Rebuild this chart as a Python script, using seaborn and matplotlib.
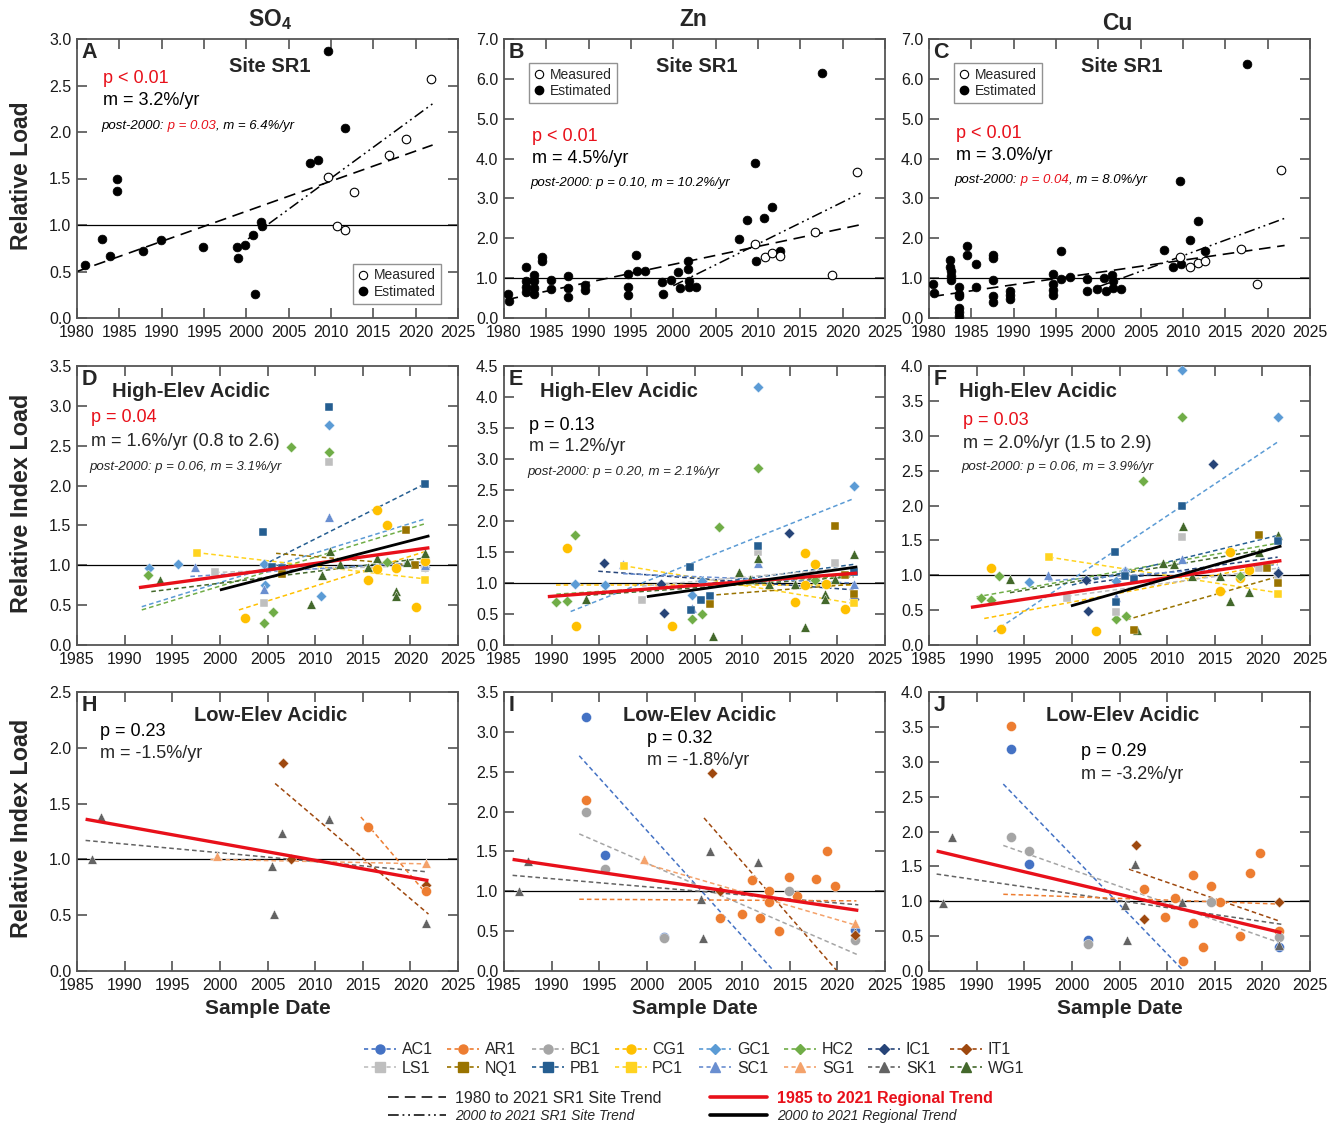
import numpy as np
import pandas as pd
import matplotlib
matplotlib.use("Agg")
import matplotlib.pyplot as plt
from matplotlib.lines import Line2D
from matplotlib.ticker import FormatStrFormatter
from matplotlib import font_manager
import seaborn as sns

# Tema dasar, lalu font
sns.set_theme(style="ticks")
plt.rcParams["font.family"] = ["Liberation Sans", "DejaVu Sans"]
plt.rcParams["mathtext.fontset"] = "custom"
plt.rcParams["mathtext.bf"] = "Liberation Sans:bold"
plt.rcParams["mathtext.rm"] = "Liberation Sans"

names = {f.name for f in font_manager.fontManager.ttflist}
HAS_NARROW = "Liberation Sans Narrow" in names
ITAL_FAM = ["Liberation Sans Narrow", "Liberation Sans"] if HAS_NARROW else ["Liberation Sans"]
ITAL_SIZE = 11 if HAS_NARROW else 9.5

# ---------------- DATA: site SR1 (row 1) ----------------
so4_est = [(1980.9, 0.57), (1982.9, 0.85), (1983.9, 0.67), (1984.7, 1.49), (1984.7, 1.37),
           (1987.8, 0.72), (1989.9, 0.84), (1994.9, 0.76), (1998.9, 0.76), (1999.0, 0.65),
           (1999.9, 0.79), (2000.8, 0.89), (2001.0, 0.26), (2001.7, 1.03), (2001.8, 0.99),
           (2007.5, 1.67), (2008.5, 1.70), (2009.6, 2.87), (2011.7, 2.04)]
so4_meas = [(2009.6, 1.52), (2010.7, 0.99), (2011.7, 0.95), (2012.7, 1.35), (2016.8, 1.75),
            (2018.8, 1.92), (2021.8, 2.57)]
so4_trend = [(1980.0, 0.50), (2022.0, 1.86)]
so4_trend_post = [(2000.2, 0.85), (2022.1, 2.31)]

zn_est = [(1980.5, 0.59), (1980.6, 0.43), (1982.6, 1.27), (1982.6, 0.94), (1982.6, 0.79),
          (1982.6, 0.64), (1983.5, 1.09), (1983.6, 0.94), (1983.5, 0.75), (1983.6, 0.59),
          (1984.5, 1.52), (1984.5, 1.42), (1985.5, 0.95), (1985.5, 0.73), (1987.5, 1.06),
          (1987.6, 0.75), (1987.6, 0.52), (1989.6, 0.84), (1989.6, 0.70), (1994.7, 1.10),
          (1994.7, 0.79), (1994.7, 0.58), (1995.6, 1.58), (1995.7, 1.17), (1996.6, 1.17),
          (1998.7, 0.91), (1998.8, 0.60), (1999.7, 0.95), (2000.6, 1.15), (2000.8, 0.75),
          (2001.7, 1.43), (2001.7, 1.23), (2001.8, 0.94), (2001.8, 0.79), (2002.7, 0.79),
          (2007.8, 1.99), (2008.7, 2.45), (2009.6, 3.90), (2009.8, 1.42), (2010.7, 2.52),
          (2011.7, 2.78), (2012.6, 1.67), (2017.5, 6.15)]
zn_meas = [(2009.7, 1.85), (2010.8, 1.53), (2011.7, 1.62), (2012.6, 1.55), (2016.7, 2.17),
           (2018.7, 1.07), (2021.7, 3.67)]
zn_trend = [(1980.3, 0.46), (2022.1, 2.34)]
zn_trend_post = [(2000.0, 0.81), (2022.1, 3.13)]

cu_est = [(1980.5, 0.86), (1980.6, 0.63), (1982.5, 1.46), (1982.5, 1.29), (1982.6, 1.17),
          (1982.6, 1.06), (1982.6, 0.96), (1983.6, 0.79), (1983.6, 0.61), (1983.5, 0.54),
          (1983.5, 0.25), (1983.5, 0.14), (1983.6, 0.04), (1984.5, 1.81), (1984.5, 1.59),
          (1985.5, 1.36), (1985.6, 0.79), (1987.6, 1.58), (1987.6, 1.50), (1987.6, 0.96),
          (1987.6, 0.56), (1987.6, 0.39), (1989.6, 0.68), (1989.6, 0.58), (1989.6, 0.48),
          (1994.7, 1.11), (1994.7, 0.86), (1994.7, 0.71), (1994.7, 0.58), (1995.6, 1.69),
          (1995.6, 0.98), (1996.6, 1.04), (1998.7, 0.98), (1998.7, 0.68), (1999.8, 0.73),
          (2000.7, 1.00), (2000.9, 0.67), (2001.6, 1.08), (2001.7, 0.92), (2001.7, 0.75),
          (2002.7, 0.73), (2007.8, 1.71), (2008.8, 1.27), (2009.7, 3.43), (2009.8, 1.36),
          (2010.8, 1.96), (2011.8, 2.43), (2012.6, 1.69), (2017.5, 6.38)]
cu_meas = [(2009.7, 1.52), (2010.8, 1.29), (2011.8, 1.38), (2012.6, 1.43), (2016.8, 1.73),
           (2018.7, 0.86), (2021.6, 3.72)]
cu_trend = [(1980.4, 0.54), (2022.0, 1.82)]
cu_trend_post = [(2000.1, 0.79), (2022.0, 2.50)]

# ---------------- DATA: sites ----------------
SITES = ["AC1", "AR1", "BC1", "CG1", "GC1", "HC2", "IC1", "IT1",
         "LS1", "NQ1", "PB1", "PC1", "SC1", "SG1", "SK1", "WG1"]
SITE_COLORS = ["#4472C4", "#ED7D31", "#A5A5A5", "#FFC000", "#5B9BD5", "#70AD47", "#264478", "#9E480E",
               "#BFBFBF", "#997300", "#255E91", "#FFD320", "#698ED0", "#F4A26B", "#636363", "#43682B"]
SITE_MARKERS = ["o"] * 4 + ["D"] * 4 + ["s"] * 4 + ["^"] * 4
COLOR = dict(zip(SITES, SITE_COLORS))
MARK = dict(zip(SITES, SITE_MARKERS))
MSIZE = {"o": 52, "D": 30, "s": 40, "^": 46}

# High-Elev Acidic: SO4 (D)
d_pts = {
    "GC1": [(1992.6, 0.97), (1995.6, 1.02), (2004.6, 1.02), (2004.7, 0.75), (2010.6, 0.61), (2011.5, 2.76), (2021.5, 0.98)],
    "HC2": [(1992.5, 0.88), (2004.6, 0.28), (2005.6, 0.41), (2007.5, 2.49), (2011.5, 2.42), (2017.5, 1.04)],
    "PB1": [(2004.5, 1.42), (2005.5, 0.98), (2006.5, 0.97), (2011.5, 2.98), (2021.5, 2.02)],
    "LS1": [(1999.5, 0.91), (2004.6, 0.53), (2011.5, 2.30), (2021.5, 0.97)],
    "SC1": [(1997.4, 0.98), (2004.6, 0.70), (2011.5, 1.61), (2021.5, 1.00)],
    "CG1": [(2002.6, 0.34), (2015.5, 0.81), (2016.5, 1.69), (2016.5, 0.95), (2017.5, 1.50), (2018.5, 0.96), (2020.6, 0.48), (2021.5, 1.05)],
    "PC1": [(1997.6, 1.16), (2021.5, 0.82)],
    "NQ1": [(2006.5, 0.89), (2019.5, 1.44), (2020.5, 1.00)],
    "WG1": [(1993.7, 0.82), (2009.6, 0.52), (2010.7, 0.88), (2011.6, 1.18), (2012.6, 1.02), (2015.5, 0.98),
            (2016.5, 1.09), (2018.5, 0.68), (2018.5, 0.61), (2019.6, 1.04), (2021.5, 1.15)],
}
d_trends = {
    "PB1": [(2004.5, 1.00), (2021.5, 2.02)], "GC1": [(1991.8, 0.48), (2021.5, 1.58)],
    "HC2": [(1991.8, 0.44), (2021.5, 1.52)], "WG1": [(1992.8, 0.67), (2021.5, 1.09)],
    "CG1": [(2002.0, 0.44), (2021.5, 1.17)], "PC1": [(1997.5, 1.16), (2021.5, 0.83)],
    "NQ1": [(2005.9, 1.15), (2021.5, 0.99)], "LS1": [(1999.5, 0.91), (2021.5, 1.00)],
    "SC1": [(1996.9, 0.86), (2021.5, 1.04)],
}
d_region = [(1991.5, 0.72), (2022.0, 1.22)]
d_region_post = [(2000.0, 0.69), (2022.0, 1.37)]

# High-Elev Acidic: Zn (E)
e_pts = {
    "HC2": [(1990.5, 0.70), (1991.6, 0.71), (1992.5, 1.77), (2004.7, 0.42), (2005.8, 0.50), (2007.6, 1.91), (2011.7, 2.86), (2017.6, 1.05)],
    "CG1": [(1991.6, 1.57), (1992.6, 0.30), (2002.6, 0.31), (2015.6, 0.70), (2016.6, 1.49), (2016.6, 0.97), (2017.6, 1.30), (2018.8, 0.98), (2020.8, 0.58)],
    "GC1": [(1992.5, 0.98), (1995.6, 0.97), (2004.7, 0.81), (2005.8, 1.03), (2011.7, 4.16), (2021.7, 2.56)],
    "IC1": [(1995.5, 1.33), (2001.5, 0.99), (2001.8, 0.51), (2014.9, 1.80), (2021.7, 0.74)],
    "SC1": [(1997.5, 1.30), (2004.7, 0.59), (2011.7, 1.32), (2021.7, 0.98)],
    "PC1": [(1997.6, 1.28), (2021.7, 0.68)],
    "LS1": [(1999.5, 0.73), (2011.7, 1.50), (2019.7, 1.33)],
    "PB1": [(2004.5, 1.26), (2004.6, 0.56), (2005.7, 0.73), (2006.6, 0.79), (2011.7, 1.60), (2021.7, 1.17)],
    "NQ1": [(2006.6, 0.66), (2019.7, 1.92), (2020.8, 1.13), (2021.7, 0.83)],
    "WG1": [(1993.6, 0.75), (2006.9, 0.15), (2009.7, 1.18), (2010.8, 1.06), (2011.7, 1.41), (2012.8, 0.98),
            (2015.6, 0.99), (2016.6, 0.29), (2018.7, 0.83), (2018.7, 0.75), (2019.7, 1.06), (2021.7, 1.46)],
}
e_trends = {
    "GC1": [(1992.0, 0.54), (2021.7, 2.36)], "PC1": [(1997.5, 1.28), (2021.7, 0.67)],
    "CG1": [(1990.5, 0.97), (2021.7, 0.97)], "IC1": [(1994.9, 1.19), (2021.7, 0.89)],
    "NQ1": [(2006.5, 0.80), (2021.7, 0.98)], "WG1": [(1993.6, 0.80), (2021.7, 1.10)],
    "HC2": [(1990.5, 0.82), (2021.7, 1.12)], "PB1": [(2004.5, 0.95), (2021.7, 1.30)],
    "SC1": [(1997.5, 1.15), (2021.7, 1.00)], "LS1": [(1999.5, 0.95), (2021.7, 1.25)],
}
e_region = [(1989.6, 0.78), (2022.1, 1.16)]
e_region_post = [(2000.0, 0.78), (2022.1, 1.26)]

# High-Elev Acidic: Cu (F)
f_pts = {
    "CG1": [(1991.5, 1.10), (1992.6, 0.23), (2002.5, 0.20), (2015.5, 0.77), (2016.6, 1.34), (2017.6, 0.96), (2018.6, 1.07)],
    "HC2": [(1990.5, 0.68), (1991.5, 0.65), (1992.4, 0.99), (2004.6, 0.37), (2005.7, 0.41), (2007.5, 2.35), (2011.6, 3.27), (2017.6, 0.99)],
    "WG1": [(1993.5, 0.95), (2006.8, 0.21), (2009.6, 1.18), (2010.7, 1.16), (2011.7, 1.71), (2012.6, 0.99),
            (2015.5, 0.99), (2016.6, 0.63), (2018.6, 0.76), (2019.6, 1.33), (2021.6, 1.58)],
    "GC1": [(1995.5, 0.90), (2004.6, 0.92), (2005.6, 1.06), (2011.6, 3.94), (2021.6, 3.27)],
    "SC1": [(1997.5, 1.00), (2004.6, 0.69), (2005.6, 1.08), (2011.6, 1.24), (2021.6, 1.07)],
    "PC1": [(1997.6, 1.26), (2021.6, 0.73)],
    "LS1": [(1999.5, 0.67), (2004.6, 0.47), (2011.6, 1.55), (2019.6, 1.10), (2021.6, 1.00)],
    "IC1": [(2001.5, 0.93), (2001.7, 0.49), (2014.8, 2.59), (2021.6, 1.03)],
    "PB1": [(2004.5, 1.33), (2004.6, 0.62), (2005.6, 0.99), (2006.5, 0.95), (2011.6, 1.99), (2021.6, 1.49)],
    "NQ1": [(2006.5, 0.21), (2019.6, 1.57), (2020.5, 1.11), (2021.6, 0.89)],
}
f_trends = {
    "GC1": [(1991.8, 0.19), (2021.6, 2.91)], "HC2": [(1990.0, 0.69), (2021.6, 1.46)],
    "WG1": [(1993.5, 0.75), (2021.6, 1.40)], "PB1": [(2000.0, 0.86), (2021.6, 1.57)],
    "CG1": [(1990.8, 0.38), (2021.6, 1.17)], "PC1": [(1997.6, 1.26), (2021.6, 0.75)],
    "NQ1": [(2005.7, 0.36), (2021.6, 0.98)], "IC1": [(2001.5, 0.88), (2021.6, 1.26)],
    "SC1": [(1997.5, 0.92), (2021.6, 1.15)], "LS1": [(1999.5, 0.70), (2021.6, 1.10)],
}
f_region = [(1989.4, 0.54), (2022.0, 1.21)]
f_region_post = [(1999.9, 0.56), (2022.0, 1.42)]

# Low-Elev Acidic: SO4 (H)
h_pts = {
    "SK1": [(1986.6, 1.00), (1987.5, 1.38), (2005.5, 0.94), (2005.7, 0.51), (2006.5, 1.24), (2011.5, 1.36), (2021.6, 0.43)],
    "IT1": [(2006.6, 1.86), (2007.5, 1.00), (2021.6, 0.77)],
    "AR1": [(2015.6, 1.29), (2021.6, 0.72)],
    "SG1": [(1999.7, 1.03), (2021.6, 0.97)],
}
h_trends = {
    "SK1": [(1985.9, 1.17), (2021.6, 0.89)], "IT1": [(2005.8, 1.68), (2021.9, 0.51)],
    "AR1": [(2014.8, 1.38), (2021.6, 0.70)], "SG1": [(1999.0, 1.00), (2021.6, 0.96)],
}
h_region = [(1985.9, 1.36), (2021.9, 0.81)]

# Low-Elev Acidic: Zn (I)
i_pts = {
    "AC1": [(1993.6, 3.19), (1995.6, 1.46), (2001.8, 0.43), (2021.8, 0.51)],
    "AR1": [(1993.6, 2.14), (2007.7, 0.67), (2010.0, 0.72), (2011.0, 1.14), (2011.9, 0.66), (2012.8, 1.00), (2012.8, 0.87),
            (2013.9, 0.50), (2014.9, 1.18), (2015.8, 0.94), (2017.8, 1.16), (2018.9, 1.51), (2019.8, 1.07)],
    "BC1": [(1993.6, 1.99), (1995.6, 1.28), (2001.8, 0.41), (2014.9, 1.00), (2021.8, 0.39)],
    "SK1": [(1986.6, 1.00), (1987.5, 1.38), (2005.7, 0.90), (2005.9, 0.41), (2006.6, 1.50), (2011.7, 1.37), (2021.8, 0.49)],
    "IT1": [(2006.8, 2.48), (2007.7, 1.00), (2021.8, 0.45)],
    "SG1": [(1999.7, 1.40), (2021.8, 0.60)],
}
i_trends = {
    "AC1": [(1992.9, 2.70), (2013.1, 0.03)], "IT1": [(2006.0, 1.92), (2019.9, 0.01)],
    "BC1": [(1992.9, 1.72), (2022.2, 0.20)], "SK1": [(1985.9, 1.20), (2022.2, 0.83)],
    "AR1": [(1992.9, 0.90), (2022.0, 0.88)], "SG1": [(1999.7, 1.35), (2021.8, 0.58)],
}
i_region = [(1985.9, 1.40), (2022.2, 0.76)]

# Low-Elev Acidic: Cu (J)
j_pts = {
    "AR1": [(1993.6, 3.51), (2007.6, 1.18), (2009.8, 0.78), (2010.8, 1.04), (2011.7, 0.14), (2012.7, 1.38), (2012.7, 0.69),
            (2013.8, 0.34), (2014.6, 1.22), (2015.6, 0.99), (2017.7, 0.50), (2018.7, 1.41), (2019.7, 1.69), (2021.7, 0.57)],
    "AC1": [(1993.6, 3.18), (1995.5, 1.53), (2001.7, 0.45), (2021.7, 0.34)],
    "BC1": [(1993.6, 1.92), (1995.5, 1.72), (2001.7, 0.38), (2014.6, 0.99), (2021.7, 0.49)],
    "SK1": [(1986.5, 0.98), (1987.4, 1.92), (2005.6, 0.94), (2005.8, 0.45), (2006.6, 1.53), (2011.6, 0.99), (2021.7, 0.37)],
    "IT1": [(2006.7, 1.81), (2007.6, 0.74), (2021.7, 0.99)],
}
j_trends = {
    "AC1": [(1992.8, 2.68), (2011.6, 0.02)], "BC1": [(1992.8, 1.80), (2021.7, 0.41)],
    "SK1": [(1985.8, 1.39), (2022.0, 0.67)], "IT1": [(2006.0, 1.46), (2021.7, 0.72)],
    "AR1": [(1992.8, 1.10), (2021.7, 0.96)],
}
j_region = [(1985.8, 1.72), (2022.0, 0.55)]

# ---------------- FIGURE ----------------
W, H = 1338, 1125
fig = plt.figure(figsize=(W / 100, H / 100), dpi=100)
LEFTS = [77, 504, 929]
TOPS = [39, 366, 692]
AW, AH = 381, 279


def make_ax(r, c):
    return fig.add_axes([LEFTS[c] / W, 1 - (TOPS[r] + AH) / H, AW / W, AH / H])


def style(ax, xlim, ylim, ystep):
    ax.set_xlim(*xlim)
    ax.set_ylim(*ylim)
    ax.set_xticks(np.arange(xlim[0], xlim[1] + 1, 5))
    ax.set_yticks(np.arange(ylim[0], ylim[1] + 1e-9, ystep))
    ax.yaxis.set_major_formatter(FormatStrFormatter("%.1f"))
    ax.tick_params(direction="in", top=True, right=True, length=7, width=1.1,
                   color="#444444", labelcolor="#1a1a1a", labelsize=11.5)
    ax.tick_params(axis="x", pad=5)
    ax.tick_params(axis="y", pad=4)
    for sp in ax.spines.values():
        sp.set_color("#555555")
        sp.set_linewidth(1.3)
    ax.axhline(1.0, color="black", lw=0.9, zorder=1)
    ax.set_xlabel("")
    ax.set_ylabel("")


def rich_text(ax, x, y, parts, **kw):
    t = ax.text(x, y, parts[0][0], color=parts[0][1], transform=ax.transAxes,
                va="center", ha="left", **kw)
    for s, col in parts[1:]:
        t = ax.annotate(s, xy=(1, 0.5), xycoords=t, va="center", ha="left", color=col, **kw)
    return t


def draw_line(ax, seg, **kw):
    (x0, y0), (x1, y1) = seg
    ax.plot([x0, x1], [y0, y1], **kw)


RED = "#E8101A"

# ---- row 1: site SR1 ----
row1 = [
    ("A", so4_est, so4_meas, so4_trend, so4_trend_post, (0, 3.0), 0.5),
    ("B", zn_est, zn_meas, zn_trend, zn_trend_post, (0, 7.0), 1.0),
    ("C", cu_est, cu_meas, cu_trend, cu_trend_post, (0, 7.0), 1.0),
]
row1_stats = [
    ("p < 0.01", "m = 3.2%/yr", [("post-2000:", "black"), (" p = 0.03", RED), (", m = 6.4%/yr", "black")],
     (0.068, 0.857, 0.778, 0.688)),
    ("p < 0.01", "m = 4.5%/yr", [("post-2000: p = 0.10, m = 10.2%/yr", "black")],
     (0.073, 0.649, 0.570, 0.484)),
    ("p < 0.01", "m = 3.0%/yr", [("post-2000:", "black"), (" p = 0.04", RED), (", m = 8.0%/yr", "black")],
     (0.071, 0.660, 0.584, 0.495)),
]
for c, (lab, est, meas, tr, trp, ylim, ystep) in enumerate(row1):
    ax = make_ax(0, c)
    draw_line(ax, tr, color="black", lw=1.2, dashes=(7, 4), zorder=2)
    draw_line(ax, trp, color="black", lw=1.1, dashes=(7, 2.5, 1.2, 2.5, 1.2, 2.5), zorder=2)
    ex, ey = zip(*est)
    mx, my = zip(*meas)
    sns.scatterplot(x=list(ex), y=list(ey), ax=ax, color="black", s=40, edgecolor="black",
                    linewidth=0.5, zorder=3, legend=False)
    sns.scatterplot(x=list(mx), y=list(my), ax=ax, color="white", s=38, edgecolor="black",
                    linewidth=0.8, zorder=3, legend=False)
    style(ax, (1980, 2025), ylim, ystep)
    ax.text(0.012, 0.988, lab, transform=ax.transAxes, fontsize=15.5, fontweight="bold",
            va="top", ha="left")
    ax.text(0.505, 0.903, "Site SR1", transform=ax.transAxes, fontsize=14.5, fontweight="bold",
            va="center", ha="center")
    pstr, mstr, post, (tx, py, my_, qy) = row1_stats[c]
    ax.text(tx, py, pstr, transform=ax.transAxes, color=RED, fontsize=13, va="center")
    ax.text(tx, my_, mstr, transform=ax.transAxes, color="black", fontsize=13, va="center")
    rich_text(ax, tx - 0.004, qy, post, fontsize=ITAL_SIZE, style="italic", family=ITAL_FAM)
    handles = [Line2D([0], [0], ls="none", marker="o", mfc="white", mec="black", mew=0.8, ms=6),
               Line2D([0], [0], ls="none", marker="o", mfc="black", mec="black", ms=6)]
    if c == 0:
        kw = dict(loc="lower right", bbox_to_anchor=(0.955, 0.05))
    else:
        kw = dict(loc="upper left", bbox_to_anchor=(0.065, 0.915))
    leg = ax.legend(handles, ["Measured", "Estimated"], fontsize=10, frameon=True, fancybox=False,
                    edgecolor="#777777", handlelength=0.8, handletextpad=0.4, borderpad=0.35,
                    labelspacing=0.2, borderaxespad=0, **kw)
    leg.get_frame().set_linewidth(1.0)

# ---- rows 2-3: regional panels ----
panels = [
    (1, 0, "D", "High-Elev Acidic", d_pts, d_trends, d_region, d_region_post, (0, 3.5), 0.5),
    (1, 1, "E", "High-Elev Acidic", e_pts, e_trends, e_region, e_region_post, (0, 4.5), 0.5),
    (1, 2, "F", "High-Elev Acidic", f_pts, f_trends, f_region, f_region_post, (0, 4.0), 0.5),
    (2, 0, "H", "Low-Elev Acidic", h_pts, h_trends, h_region, None, (0, 2.5), 0.5),
    (2, 1, "I", "Low-Elev Acidic", i_pts, i_trends, i_region, None, (0, 3.5), 0.5),
    (2, 2, "J", "Low-Elev Acidic", j_pts, j_trends, j_region, None, (0, 4.0), 0.5),
]
panel_text = {
    "D": dict(title=(0.092, 0.907, "left"), p=("p = 0.04", RED), m="m = 1.6%/yr (0.8 to 2.6)",
              post="post-2000: p = 0.06, m = 3.1%/yr", xy=(0.036, 0.814, 0.731, 0.638)),
    "E": dict(title=(0.094, 0.907, "left"), p=("p = 0.13", "black"), m="m = 1.2%/yr",
              post="post-2000: p = 0.20, m = 2.1%/yr", xy=(0.066, 0.785, 0.710, 0.620)),
    "F": dict(title=(0.079, 0.907, "left"), p=("p = 0.03", RED), m="m = 2.0%/yr (1.5 to 2.9)",
              post="post-2000: p = 0.06, m = 3.9%/yr", xy=(0.089, 0.803, 0.724, 0.638)),
    "H": dict(title=(0.507, 0.914, "center"), p=("p = 0.23", "black"), m="m = -1.5%/yr",
              post=None, xy=(0.060, 0.860, 0.781, None)),
    "I": dict(title=(0.514, 0.914, "center"), p=("p = 0.32", "black"), m="m = -1.8%/yr",
              post=None, xy=(0.375, 0.835, 0.756, None)),
    "J": dict(title=(0.509, 0.917, "center"), p=("p = 0.29", "black"), m="m = -3.2%/yr",
              post=None, xy=(0.399, 0.785, 0.706, None)),
}

for r, c, lab, title, pts, trends, reg, reg_post, ylim, ystep in panels:
    ax = make_ax(r, c)
    for s, seg in trends.items():
        draw_line(ax, seg, color=COLOR[s], lw=1.1, dashes=(3, 2), zorder=2)
    draw_line(ax, reg, color=RED, lw=2.4, zorder=4, solid_capstyle="butt")
    if reg_post is not None:
        draw_line(ax, reg_post, color="black", lw=2.0, zorder=4, solid_capstyle="butt")
    for s, lst in pts.items():
        df = pd.DataFrame(lst, columns=["year", "value"])
        sns.scatterplot(data=df, x="year", y="value", ax=ax, color=COLOR[s], marker=MARK[s],
                        s=MSIZE[MARK[s]], edgecolor="white", linewidth=0.3, zorder=3, legend=False)
    style(ax, (1985, 2025), ylim, ystep)
    ax.text(0.012, 0.988, lab, transform=ax.transAxes, fontsize=15.5, fontweight="bold",
            va="top", ha="left")
    t = panel_text[lab]
    tx, ty, tha = t["title"]
    ax.text(tx, ty, title, transform=ax.transAxes, fontsize=14.5, fontweight="bold",
            va="center", ha=tha)
    x0, py, my_, qy = t["xy"]
    ax.text(x0, py, t["p"][0], color=t["p"][1], transform=ax.transAxes, fontsize=13, va="center")
    ax.text(x0, my_, t["m"], transform=ax.transAxes, fontsize=13, va="center")
    if t["post"]:
        ax.text(x0 - 0.004, qy, t["post"], transform=ax.transAxes, fontsize=ITAL_SIZE,
                style="italic", family=ITAL_FAM, va="center")
    if r == 2:
        ax.set_xlabel("Sample Date", fontsize=15, fontweight="bold", labelpad=4)

# column titles and y labels
fig.text(270 / W, 1 - 20 / H, r"$\mathbf{SO_4}$", fontsize=16.5, ha="center", va="center")
fig.text(693 / W, 1 - 20 / H, "Zn", fontsize=16.5, fontweight="bold", ha="center", va="center")
fig.text(1117 / W, 1 - 24 / H, "Cu", fontsize=16.5, fontweight="bold", ha="center", va="center")
fig.text(22 / W, 1 - 176 / H, "Relative Load", rotation=90, fontsize=16.5, fontweight="bold",
         ha="center", va="center")
fig.text(22 / W, 1 - 503 / H, "Relative Index Load", rotation=90, fontsize=16.8, fontweight="bold",
         ha="center", va="center")
fig.text(22 / W, 1 - 828 / H, "Relative Index Load", rotation=90, fontsize=16.8, fontweight="bold",
         ha="center", va="center")

# ---- bottom legends ----
order = []
for i in range(8):
    order += [SITES[i], SITES[i + 8]]
site_handles = [Line2D([0], [0], color=COLOR[s], ls=(0, (2.5, 2)), lw=1.2, marker=MARK[s],
                       ms=5 if MARK[s] == "D" else 6.5, mec=COLOR[s]) for s in order]
fig.legend(site_handles, order, loc="center", bbox_to_anchor=(0.519, 1 - 1059 / H), ncol=8,
           frameon=False, fontsize=11.5, handlelength=2.0, handletextpad=0.35, columnspacing=0.9,
           labelspacing=0.2)

trend_handles = [Line2D([0], [0], color="black", lw=1.1, dashes=(7, 4)),
                 Line2D([0], [0], color="black", lw=1.1, dashes=(7, 2.5, 1.2, 2.5, 1.2, 2.5)),
                 Line2D([0], [0], color=RED, lw=2.6),
                 Line2D([0], [0], color="black", lw=2.6)]
trend_labels = ["1980 to 2021 SR1 Site Trend", "2000 to 2021 SR1 Site Trend",
                "1985 to 2021 Regional Trend", "2000 to 2021 Regional Trend"]
leg2 = fig.legend(trend_handles, trend_labels, loc="center", bbox_to_anchor=(0.516, 1 - 1107 / H),
                  ncol=2, frameon=False, fontsize=11.5, handlelength=3.6, handletextpad=0.6,
                  columnspacing=3.0, labelspacing=0.2)
txts = leg2.get_texts()
for k in (1, 3):
    txts[k].set_style("italic")
    txts[k].set_family(ITAL_FAM)
    txts[k].set_size(ITAL_SIZE + 0.5)
txts[2].set_color(RED)
txts[2].set_weight("bold")

fig.savefig("out.png", dpi=100)
